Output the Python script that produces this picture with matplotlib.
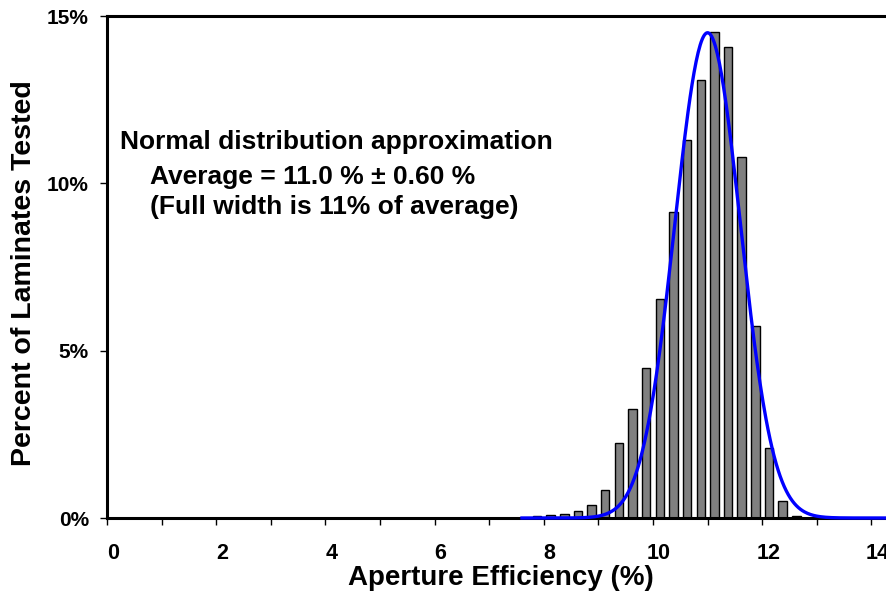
import numpy as np
import matplotlib
matplotlib.use("Agg")
import matplotlib.pyplot as plt
import matplotlib.transforms as mtransforms

# histogram of aperture efficiency, bins 0.25 wide
bin_centers = [7.875, 8.125, 8.375, 8.625, 8.875, 9.125, 9.375, 9.625, 9.875, 10.125,
               10.375, 10.625, 10.875, 11.125, 11.375, 11.625, 11.875, 12.125, 12.375, 12.625]
percent = [0.05, 0.09, 0.11, 0.20, 0.38, 0.83, 2.25, 3.27, 4.49, 6.55,
           9.15, 11.29, 13.09, 14.53, 14.08, 10.80, 5.74, 2.10, 0.52, 0.05]

# normal fit parameters
fit_mean = 11.0
fit_sigma = 0.60
fit_peak = 14.5
fit_start = 7.6
fit_end = 15.0

x_ticks = [0, 2, 4, 6, 8, 10, 12, 14]
y_ticks = [0, 5, 10, 15]

W, H = 886, 600

plt.rcParams['font.family'] = ['Liberation Sans', 'DejaVu Sans']
plt.rcParams['font.weight'] = 'bold'

fig = plt.figure(figsize=(W / 100, H / 100), dpi=100)
ax = fig.add_axes([107 / W, 82 / H, 819 / W, 502 / H])

ax.bar(bin_centers, percent, width=0.155, color='#808080', edgecolor='black',
       linewidth=1.0, zorder=2)

xs = np.linspace(fit_start, fit_end, 400)
ys = fit_peak * np.exp(-0.5 * ((xs - fit_mean) / fit_sigma) ** 2)
ax.plot(xs, ys, color='#0000FF', linewidth=2.4, zorder=5, clip_on=False)

ax.set_xlim(0, 15)
ax.set_ylim(0, 15)

ax.set_xticks(np.arange(0, 16, 1))
ax.set_xticklabels([str(t) if t in x_ticks else '' for t in range(16)])
ax.set_yticks(y_ticks)
ax.set_yticklabels([f'{t}%' for t in y_ticks])

ax.tick_params(axis='both', direction='out', length=5, width=1.0, colors='black')
ax.tick_params(axis='x', pad=13, labelsize=15.5)
ax.tick_params(axis='y', pad=8, labelsize=15)

# labels sit a little right of their ticks
shift = mtransforms.ScaledTranslation(6 / 100, 0, fig.dpi_scale_trans)
for lab in ax.get_xticklabels():
    lab.set_transform(lab.get_transform() + shift)
    lab.set_fontweight('bold')
for lab in ax.get_yticklabels():
    lab.set_fontweight('bold')

for side in ['left', 'bottom', 'top']:
    ax.spines[side].set_linewidth(2.2)
ax.spines['right'].set_visible(False)

fig.text(501 / W, 1 - 578 / H, 'Aperture Efficiency (%)', fontsize=20,
         fontweight='bold', ha='center', va='center')
fig.text(24 / W, 1 - 273 / H, 'Percent of Laminates Tested', fontsize=20.5,
         fontweight='bold', ha='center', va='center', rotation=90)

fig.text(120 / W, 1 - 142 / H, 'Normal distribution approximation', fontsize=19,
         fontweight='bold', va='center', ha='left')
fig.text(150 / W, 1 - 177 / H, 'Average = 11.0 % \u00b1 0.60 %', fontsize=19,
         fontweight='bold', va='center', ha='left')
fig.text(150 / W, 1 - 207 / H, '(Full width is 11% of average)', fontsize=19,
         fontweight='bold', va='center', ha='left')

fig.savefig('out.png', dpi=100)
